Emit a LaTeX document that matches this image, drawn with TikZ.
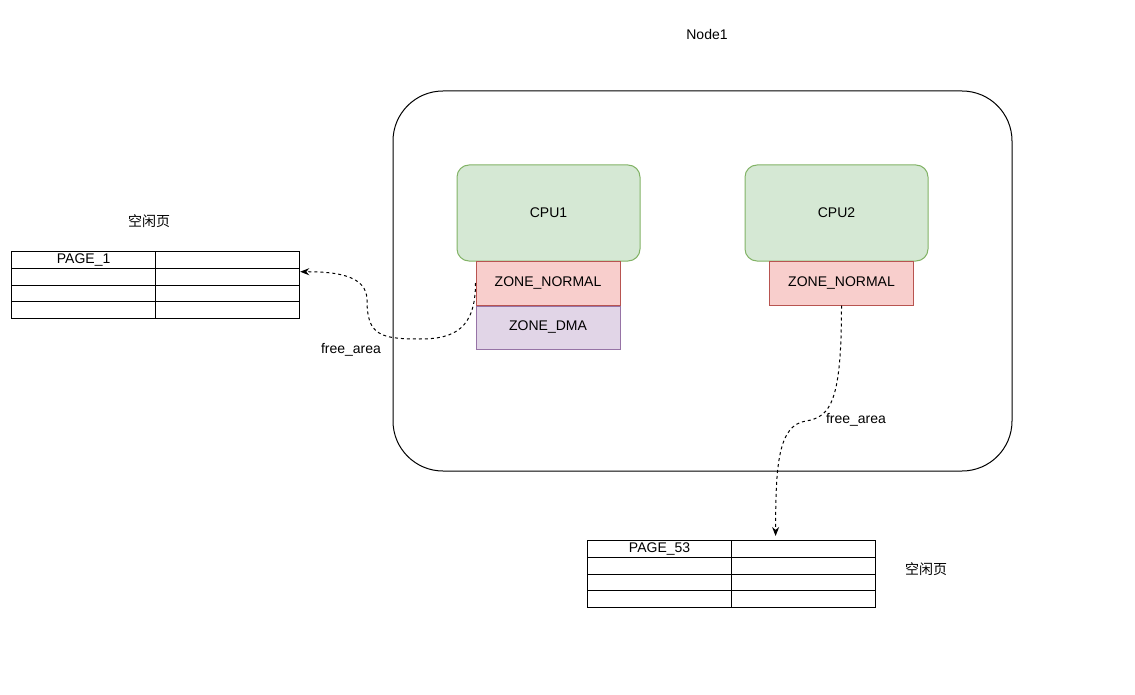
\documentclass[tikz,border=0pt]{standalone}
\usepackage{fontspec}
\setmainfont{Liberation Sans}
\newfontfamily\cjk{Noto Sans CJK SC}
\usetikzlibrary{arrows.meta,calc,positioning}
\definecolor{cpufill}{HTML}{D5E8D4}
\definecolor{cpuline}{HTML}{82B366}
\definecolor{normfill}{HTML}{F8CECC}
\definecolor{normline}{HTML}{B85450}
\definecolor{dmafill}{HTML}{E1D5E7}
\definecolor{dmaline}{HTML}{9673A6}

\begin{document}
\begin{tikzpicture}[x=1pt,y=-1pt,font=\fontsize{14}{16}\selectfont,
  cpu/.style={draw=cpuline,fill=cpufill,rounded corners=12pt,minimum width=183pt,minimum height=96pt,line width=1pt},
  zone/.style={minimum width=144pt,minimum height=44pt,inner sep=0pt,line width=1pt},
  cell/.style={draw,line width=1.2pt,minimum width=144pt,minimum height=16.75pt,inner sep=0pt,anchor=north west},
  flow/.style={-{Stealth[length=9pt,width=7pt]},dash pattern=on 3pt off 3pt,line width=1pt}]
  \useasboundingbox (0,0) rectangle (1135,695);
  \node (nd1) at (707,34) {Node1};
  \node[draw,rounded corners=50pt,minimum width=619pt,minimum height=380pt,line width=1pt] (node1) at (702.5,281) {};
  % cpus and their zones
  \node[cpu] (cpu1) at (548.5,213) {CPU1};
  \node[cpu] (cpu2) at (836.5,213) {CPU2};
  \node[zone,draw=normline,fill=normfill] (nz1) at (548,283) {ZONE\_NORMAL};
  \node[zone,draw=dmaline,fill=dmafill,minimum height=43pt,below=0pt of nz1] (dma1) {ZONE\_DMA};
  \node[zone,draw=normline,fill=normfill] (nz2) at (841.5,283) {ZONE\_NORMAL};
  % free page tables
  \foreach \r in {1,...,4}
    \foreach \c in {1,2} {
      \node[cell] (pa-\r-\c) at ({11+144*(\c-1)},{251+16.75*(\r-1)}) {};
      \node[cell] (pb-\r-\c) at ({587+144*(\c-1)},{540+16.75*(\r-1)}) {};
    }
  \node (pg1) at (pa-1-1) {PAGE\_1};
  \node (pg53) at (pb-1-1) {PAGE\_53};
  \node (kx1) at (149,221) {\cjk 空闲页};
  \node (kx2) at (926,569) {\cjk 空闲页};
  % free_area links
  \coordinate (fa1) at (420,339);
  \coordinate (fa2) at (367,300);
  \coordinate (fb1) at (806,421);
  \draw[flow] (nz1.west) .. controls +(0,45) and +(35,0) .. (fa1)
    .. controls +(-40,0) and +(0,35) .. (fa2)
    .. controls +(0,-25) and +(35,0) .. ([yshift=5pt]pa-2-2.east);
  \draw[flow] (nz2.south) .. controls +(0,95) and +(25,-4) .. (fb1)
    .. controls +(-28,4) and +(0,-70) .. ([shift={(-28pt,4pt)}]pb-1-2.north);
  \node (fr1) at (351,350) {free\_area};
  \node (fr2) at (856,420) {free\_area};
\end{tikzpicture}
\end{document}
